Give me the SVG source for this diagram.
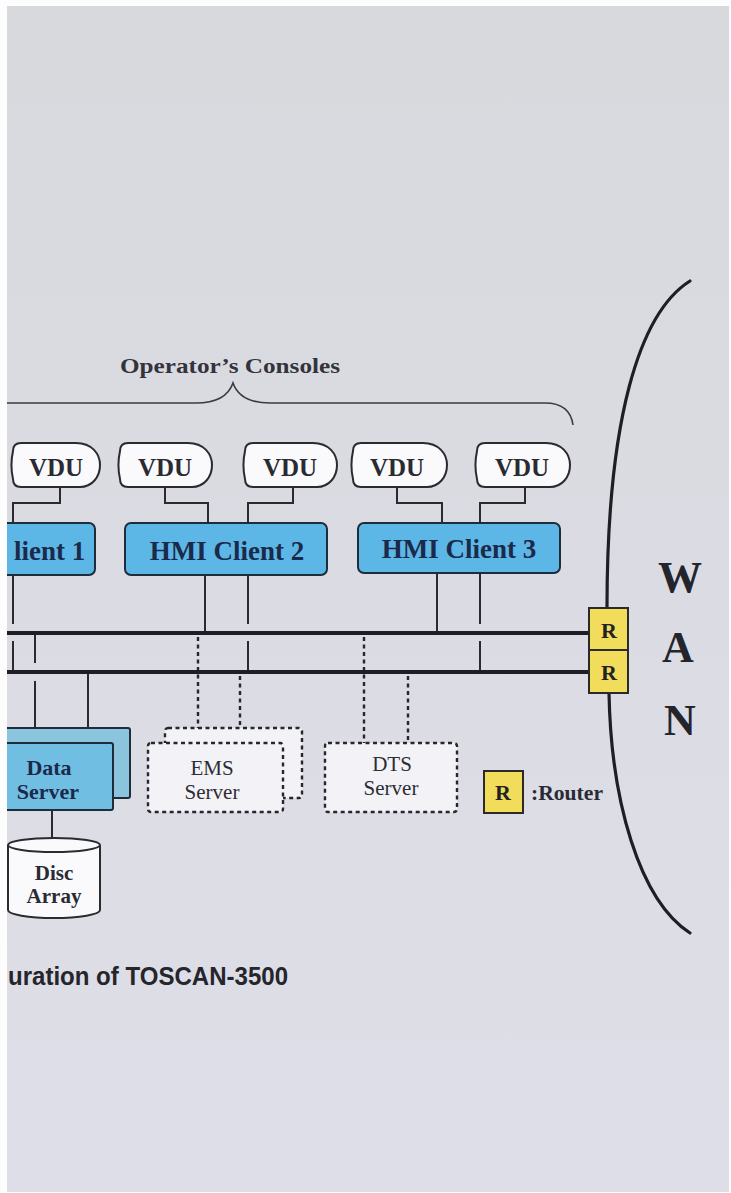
<svg xmlns="http://www.w3.org/2000/svg" width="731" height="1193" viewBox="0 0 731 1193">
<defs>
<linearGradient id="bg" x1="0" y1="0" x2="0" y2="1">
<stop offset="0" stop-color="#d8d9dd"/>
<stop offset="0.5" stop-color="#dbdce3"/>
<stop offset="1" stop-color="#dedee8"/>
</linearGradient>
<style>
.serif{font-family:"Liberation Serif","Times New Roman",serif;}
.sans{font-family:"Liberation Sans",Arial,sans-serif;}
.ln{stroke:#2a2a30;stroke-width:2;fill:none;}
.bus{stroke:#1e1e24;stroke-width:4;fill:none;}
.dot{stroke:#26262c;stroke-width:2.4;stroke-dasharray:4 3.5;fill:none;}
.vdu{fill:#fafafc;stroke:#2a2a30;stroke-width:2;}
.vt{font-size:25px;font-weight:bold;fill:#2a2a32;text-anchor:middle;}
.hmi{fill:#5db7e6;stroke:#1f2c3a;stroke-width:2;}
.ht{font-size:27px;font-weight:bold;fill:#1b2a4a;text-anchor:middle;}
.dsv{fill:#f3f3f7;stroke:#26262c;stroke-width:2.4;stroke-dasharray:4 3.5;}
.st{font-size:21px;fill:#2c2c34;text-anchor:middle;}
.rt{fill:#f2dc5c;stroke:#2a2a2a;stroke-width:2;}
.rtx{font-size:22px;font-weight:bold;fill:#222;text-anchor:middle;}
</style>
</defs>
<rect x="0" y="0" width="731" height="1193" fill="#fdfdfd"/>
<rect x="7" y="6" width="722" height="1186" fill="url(#bg)"/>

<g id="consoles-label">
<text class="serif" x="120" y="373" font-size="22" font-weight="bold" fill="#33333c" textLength="220" lengthAdjust="spacingAndGlyphs">Operator’s  Consoles</text>
<path d="M7,403 H196 Q226,403 233,383 Q240,403 270,403 H545 Q570,403 573,425" fill="none" stroke="#3a3a42" stroke-width="1.6"/>
</g>

<g id="connectors">
<path class="ln" d="M60,487 V503 H13 V523"/>
<path class="ln" d="M165,487 V503 H208 V523"/>
<path class="ln" d="M293,487 V503 H248 V523"/>
<path class="ln" d="M397,487 V503 H442 V523"/>
<path class="ln" d="M525,487 V503 H480 V523"/>
<path class="ln" d="M13,575 V624 M13,641 V672"/>
<path class="ln" d="M205,575 V633"/>
<path class="ln" d="M248,575 V624 M248,641 V672"/>
<path class="ln" d="M437,573 V633"/>
<path class="ln" d="M480,573 V624 M480,641 V672"/>
<path class="ln" d="M35,633 V663 M35,681 V728"/>
<path class="ln" d="M88,672 V728"/>
<path class="ln" d="M52,810 V840"/>
<path class="dot" d="M198,637 V728"/>
<path class="dot" d="M240,676 V728"/>
<path class="dot" d="M364,637 V743"/>
<path class="dot" d="M408,676 V743"/>
<path class="bus" d="M7,633 H590"/>
<path class="bus" d="M7,672 H590"/>
<path d="M690,281 C639,313 607,420 607,608" fill="none" stroke="#1e1e24" stroke-width="3.2" stroke-linecap="round"/>
<path d="M609,693 C611,800 639,900 690,933" fill="none" stroke="#1e1e24" stroke-width="3.2" stroke-linecap="round"/>
</g>

<g id="vdu1"><path class="vdu" d="M21,443 H76 C92,443 100,454 100,465 C100,477 92,487 80,487 H21 Q13,487 13,479 C11,470 11,460 13,451 Q13,443 21,443 Z"/><text class="serif vt" x="56" y="476">VDU</text></g>
<g id="vdu2"><path class="vdu" d="M128,443 H188 C204,443 212,454 212,465 C212,477 204,487 192,487 H128 Q120,487 120,479 C118,470 118,460 120,451 Q120,443 128,443 Z"/><text class="serif vt" x="165" y="476">VDU</text></g>
<g id="vdu3"><path class="vdu" d="M253,443 H313 C329,443 337,454 337,465 C337,477 329,487 317,487 H253 Q245,487 245,479 C243,470 243,460 245,451 Q245,443 253,443 Z"/><text class="serif vt" x="290" y="476">VDU</text></g>
<g id="vdu4"><path class="vdu" d="M361,443 H423 C439,443 447,454 447,465 C447,477 439,487 427,487 H361 Q353,487 353,479 C351,470 351,460 353,451 Q353,443 361,443 Z"/><text class="serif vt" x="397" y="476">VDU</text></g>
<g id="vdu5"><path class="vdu" d="M485,443 H546 C562,443 570,454 570,465 C570,477 562,487 550,487 H485 Q477,487 477,479 C475,470 475,460 477,451 Q477,443 485,443 Z"/><text class="serif vt" x="522" y="476">VDU</text></g>

<g id="hmi-client-1"><rect class="hmi" x="-20" y="523" width="115" height="52" rx="6"/><text class="serif" x="14" y="560" font-size="27" font-weight="bold" fill="#1b2a4a">lient 1</text></g>
<g id="hmi-client-2"><rect class="hmi" x="125" y="523" width="202" height="52" rx="6"/><text class="serif ht" x="227" y="560">HMI Client 2</text></g>
<g id="hmi-client-3"><rect class="hmi" x="358" y="523" width="202" height="50" rx="6"/><text class="serif ht" x="459" y="558">HMI Client 3</text></g>

<g id="data-server">
<rect x="-20" y="728" width="150" height="70" rx="2" fill="#8ac5dd" stroke="#1f2c3a" stroke-width="2"/>
<rect x="-20" y="743" width="133" height="67" rx="2" fill="#70bee1" stroke="#1f2c3a" stroke-width="2"/>
<text class="serif" x="49" y="775" font-size="22" font-weight="bold" fill="#1b2a4a" text-anchor="middle">Data</text>
<text class="serif" x="48" y="799" font-size="22" font-weight="bold" fill="#1b2a4a" text-anchor="middle">Server</text>
</g>

<g id="disc-array">
<path d="M8,845 V910 A46,8 0 0 0 100,910 V845" fill="#fafafc" stroke="#2a2a30" stroke-width="2"/>
<ellipse cx="54" cy="845" rx="46" ry="7" fill="#fafafc" stroke="#2a2a30" stroke-width="2"/>
<text class="serif" x="54" y="880" font-size="21" font-weight="bold" fill="#2a2a34" text-anchor="middle">Disc</text>
<text class="serif" x="54" y="903" font-size="21" font-weight="bold" fill="#2a2a34" text-anchor="middle">Array</text>
</g>

<g id="ems-server">
<rect class="dsv" x="165" y="728" width="137" height="70" rx="3"/>
<rect class="dsv" x="148" y="743" width="135" height="69" rx="3"/>
<text class="serif st" x="212" y="775">EMS</text>
<text class="serif st" x="212" y="799">Server</text>
</g>

<g id="dts-server">
<rect class="dsv" x="325" y="743" width="132" height="69" rx="3"/>
<text class="serif st" x="392" y="771">DTS</text>
<text class="serif st" x="391" y="795">Server</text>
</g>

<g id="router-1"><rect class="rt" x="589" y="608" width="39" height="42"/><text class="serif rtx" x="609" y="638">R</text></g>
<g id="router-2"><rect class="rt" x="589" y="650" width="39" height="43"/><text class="serif rtx" x="609" y="680">R</text></g>

<g id="legend">
<rect class="rt" x="484" y="771" width="39" height="42"/><text class="serif rtx" x="503" y="800">R</text>
<text class="serif" x="531" y="800" font-size="21" font-weight="bold" fill="#2a2a34" textLength="72" lengthAdjust="spacingAndGlyphs">:Router</text>
</g>

<g id="wan-label">
<text class="serif" x="680" y="592" font-size="44" font-weight="bold" fill="#24242c" text-anchor="middle">W</text>
<text class="serif" x="678" y="662" font-size="44" font-weight="bold" fill="#24242c" text-anchor="middle">A</text>
<text class="serif" x="680" y="735" font-size="44" font-weight="bold" fill="#24242c" text-anchor="middle">N</text>
</g>

<g id="caption">
<text class="sans" x="8" y="985" font-size="25" font-weight="bold" fill="#25252b" textLength="280" lengthAdjust="spacingAndGlyphs">uration of TOSCAN-3500</text>
</g>
<rect x="0" y="0" width="7" height="1193" fill="#fdfdfd"/>
</svg>
